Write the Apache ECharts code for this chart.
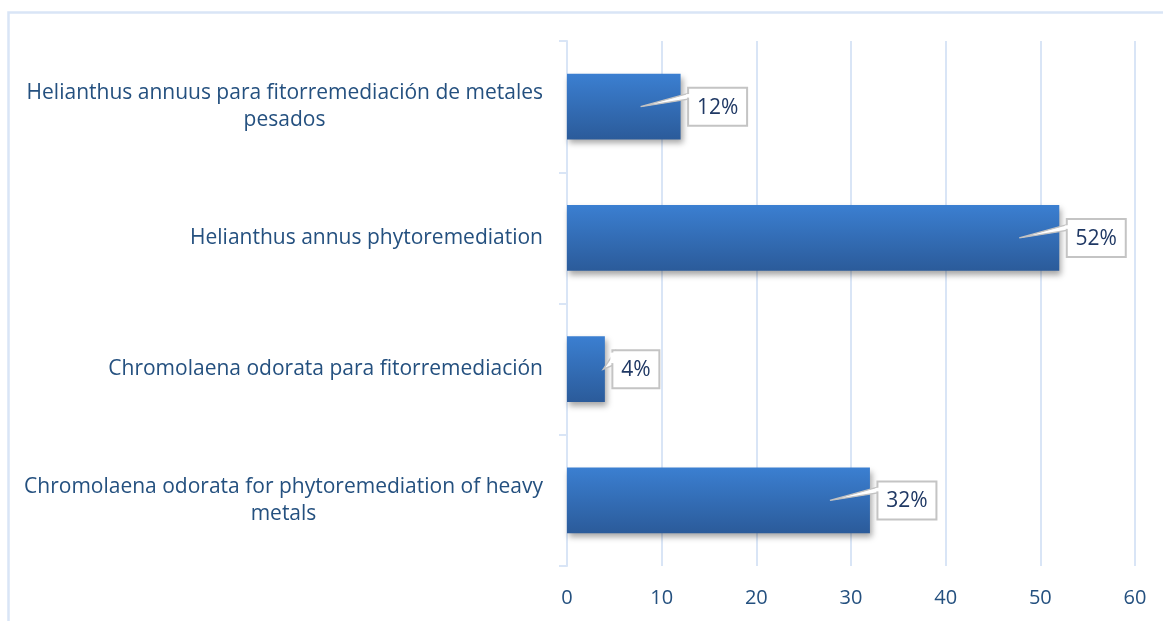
<!DOCTYPE html>
<html>
<head>
<meta charset="utf-8">
<script src="https://cdn.jsdelivr.net/npm/echarts@6/dist/echarts.min.js"></script>
<style>
html,body{margin:0;padding:0;background:#fff;}
#chart{width:1163px;height:621px;}
</style>
</head>
<body>
<div id="chart"></div>
<script>
// ---- data (top to bottom) ----
const categories = [
  "Helianthus annuus para fitorremediación de metales pesados",
  "Helianthus annus phytoremediation",
  "Chromolaena odorata para fitorremediación",
  "Chromolaena odorata for phytoremediation of heavy metals"
];
const values = [12, 52, 4, 32];
const valueLabels = ["12%", "52%", "4%", "32%"];
const axisMin = 0, axisMax = 60, axisStep = 10;

// ---- styling ----
const FONT = "'Open Sans', 'Noto Sans', sans-serif";
const CAT_SIZE = 21;
const TEXT_COLOR = "#24507f";
const GRID_COLOR = "#d9e5f6";

const mctx = document.createElement("canvas").getContext("2d");
function textWidth(t, size) {
  mctx.font = size + "px " + FONT;
  return mctx.measureText(t).width;
}

// wrap category labels: first line right aligned, following lines centered under it
const rich = {
  a: { fontFamily: FONT, fontSize: CAT_SIZE, color: TEXT_COLOR, lineHeight: 27 }
};
const wrapped = {};
categories.forEach((c, idx) => {
  const words = c.split(" ");
  const lines = [];
  let cur = "";
  words.forEach(w => {
    const t = cur ? cur + " " + w : w;
    if (textWidth(t, CAT_SIZE) > 535 && cur) { lines.push(cur); cur = w; }
    else cur = t;
  });
  lines.push(cur);
  if (lines.length === 1) {
    wrapped[c] = "{a|" + c + "}";
  } else {
    const w0 = Math.ceil(textWidth(lines[0], CAT_SIZE));
    const key = "w" + idx;
    rich[key] = { fontFamily: FONT, fontSize: CAT_SIZE, color: TEXT_COLOR, lineHeight: 27, width: w0, align: "center" };
    wrapped[c] = lines.map((l, i) => i === 0 ? "{a|" + l + "}" : "{" + key + "|" + l + "}").join("\n");
  }
});

const chart = echarts.init(document.getElementById("chart"), null, { renderer: "canvas" });

const option = {
  animation: false,
  backgroundColor: "#fff",
  graphic: [{
    type: "rect",
    shape: { x: 8.5, y: 12.5, width: 1300, height: 800 },
    style: { fill: "none", stroke: GRID_COLOR, lineWidth: 2.5 },
    silent: true, z: 0
  }],
  grid: { left: 567, right: 28, top: 41, bottom: 55, containLabel: false },
  xAxis: {
    type: "value",
    min: axisMin, max: axisMax, interval: axisStep,
    axisLine: { show: false },
    axisTick: { show: false },
    splitLine: { show: true, lineStyle: { color: GRID_COLOR, width: 2 } },
    axisLabel: { color: TEXT_COLOR, fontFamily: FONT, fontSize: 20, margin: 22 }
  },
  yAxis: {
    type: "category",
    inverse: true,
    data: categories,
    axisLine: { show: true, lineStyle: { color: GRID_COLOR, width: 2 } },
    axisTick: { show: true, length: 8, lineStyle: { color: GRID_COLOR, width: 2 } },
    axisLabel: {
      margin: 24,
      formatter: v => wrapped[v],
      rich: rich
    }
  },
  series: [
    {
      type: "bar",
      data: values,
      barWidth: "50%",
      z: 2,
      itemStyle: {
        color: new echarts.graphic.LinearGradient(0, 0, 0, 1, [
          { offset: 0, color: "#3b7fd1" },
          { offset: 1, color: "#2b5b9a" }
        ]),
        shadowColor: "rgba(0,0,0,0.35)",
        shadowBlur: 6,
        shadowOffsetX: 2,
        shadowOffsetY: 4
      }
    },
    {
      type: "custom",
      z: 5,
      data: values.map((v, i) => [v, i]),
      encode: { x: 0, y: 1 },
      renderItem: function (params, api) {
        const v = api.value(0), i = api.value(1);
        const end = api.coord([v, i]);
        const start = api.coord([0, i]);
        const barLen = end[0] - start[0];
        const cy = end[1];
        const txt = valueLabels[i];
        const tw = textWidth(txt, 21);
        const boxW = Math.round(tw + 18);
        const boxH = 38;
        const bx = end[0] + 7.5;
        const by = cy - boxH / 2;
        const tipX = barLen > 60 ? end[0] - 40 : end[0] - 1.5;
        const baseTop = barLen > 60 ? cy - 14 : cy - 18;
        const baseBot = barLen > 60 ? cy - 8 : cy - 5;
        return {
          type: "group",
          children: [
            {
              type: "polygon",
              shape: { points: [[tipX, cy], [bx + 3, baseTop], [bx + 3, baseBot]] },
              style: { fill: "#fff", stroke: "#c2c2c2", lineWidth: 1.5 }
            },
            {
              type: "rect",
              shape: { x: bx, y: by, width: boxW, height: boxH },
              style: { fill: "#fff", stroke: "#c4c4c4", lineWidth: 2 }
            },
            {
              type: "polygon",
              shape: { points: [[bx - 2, baseTop + 1.5], [bx + 3, baseTop + 1], [bx + 3, baseBot - 1], [bx - 2, baseBot - 1.2]] },
              style: { fill: "#fff" }
            },
            {
              type: "text",
              style: {
                x: bx + boxW / 2, y: cy + 1,
                text: txt,
                align: "center", verticalAlign: "middle",
                fontFamily: FONT, fontSize: 21, fill: "#1f3864"
              }
            }
          ]
        };
      }
    }
  ]
};
chart.setOption(option);
</script>
</body>
</html>
